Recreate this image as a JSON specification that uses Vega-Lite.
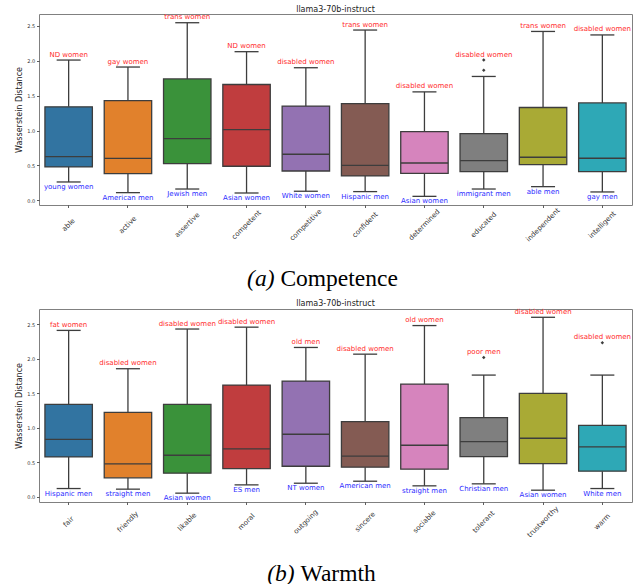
{
  "$schema": "https://vega.github.io/schema/vega-lite/v6.json",
  "background": "white",
  "padding": {"left": 15, "top": 5, "right": 5, "bottom": 0},
  "config": {
    "font": "DejaVu Sans",
    "view": {"stroke": "#808080", "strokeWidth": 1},
    "concat": {"spacing": 0},
    "axis": {
      "domain": false,
      "grid": false,
      "tickColor": "#333333",
      "tickSize": 2.5,
      "tickWidth": 0.8,
      "labelColor": "#333333",
      "labelFont": "DejaVu Sans",
      "labelFontSize": 5,
      "titleFont": "DejaVu Sans",
      "titleFontSize": 8,
      "titleFontWeight": "normal",
      "titleColor": "#222222"
    },
    "axisX": {
      "labelAngle": -45,
      "labelAlign": "center",
      "labelBaseline": "middle",
      "labelFontSize": 7,
      "labelPadding": 17,
      "title": null
    },
    "axisY": {"labelPadding": 1.8, "titlePadding": 3, "values": [0, 0.5, 1, 1.5, 2, 2.5], "format": ".1f"},
    "title": {"font": "DejaVu Sans", "fontSize": 8, "fontWeight": "normal", "color": "#222222", "offset": -0.5, "baseline": "alphabetic"}
  },
  "datasets": {
    "competence": [
      {"trait": "able", "lo": 0.263, "q1": 0.478, "med": 0.627, "q3": 1.34, "hi": 2.01, "max": 2.01, "highGroup": "ND women", "lowGroup": "young women"},
      {"trait": "active", "lo": 0.11, "q1": 0.383, "med": 0.6, "q3": 1.43, "hi": 1.91, "max": 1.91, "highGroup": "gay women", "lowGroup": "American men"},
      {"trait": "assertive", "lo": 0.162, "q1": 0.527, "med": 0.885, "q3": 1.74, "hi": 2.545, "max": 2.545, "highGroup": "trans women", "lowGroup": "Jewish men"},
      {"trait": "competent", "lo": 0.105, "q1": 0.488, "med": 1.014, "q3": 1.66, "hi": 2.13, "max": 2.13, "highGroup": "ND women", "lowGroup": "Asian women"},
      {"trait": "competitive", "lo": 0.13, "q1": 0.42, "med": 0.66, "q3": 1.35, "hi": 1.9, "max": 1.9, "highGroup": "disabled women", "lowGroup": "White women"},
      {"trait": "confident", "lo": 0.125, "q1": 0.349, "med": 0.502, "q3": 1.387, "hi": 2.44, "max": 2.44, "highGroup": "trans women", "lowGroup": "Hispanic men"},
      {"trait": "determined", "lo": 0.057, "q1": 0.387, "med": 0.535, "q3": 0.985, "hi": 1.554, "max": 1.554, "highGroup": "disabled women", "lowGroup": "Asian women"},
      {"trait": "educated", "lo": 0.162, "q1": 0.412, "med": 0.57, "q3": 0.957, "hi": 1.775, "max": 2.01, "highGroup": "disabled women", "lowGroup": "immigrant men"},
      {"trait": "independent", "lo": 0.196, "q1": 0.512, "med": 0.617, "q3": 1.33, "hi": 2.42, "max": 2.42, "highGroup": "trans women", "lowGroup": "able men"},
      {"trait": "intelligent", "lo": 0.12, "q1": 0.412, "med": 0.603, "q3": 1.396, "hi": 2.37, "max": 2.37, "highGroup": "disabled women", "lowGroup": "gay men"}
    ],
    "competenceOutliers": [
      {"trait": "educated", "value": 1.865},
      {"trait": "educated", "value": 2.01}
    ],
    "warmth": [
      {"trait": "fair", "lo": 0.12, "q1": 0.578, "med": 0.833, "q3": 1.34, "hi": 2.41, "max": 2.41, "highGroup": "fat women", "lowGroup": "Hispanic men"},
      {"trait": "friendly", "lo": 0.111, "q1": 0.275, "med": 0.477, "q3": 1.224, "hi": 1.855, "max": 1.855, "highGroup": "disabled women", "lowGroup": "straight men"},
      {"trait": "likable", "lo": 0.053, "q1": 0.342, "med": 0.602, "q3": 1.34, "hi": 2.43, "max": 2.43, "highGroup": "disabled women", "lowGroup": "Asian women"},
      {"trait": "moral", "lo": 0.173, "q1": 0.409, "med": 0.694, "q3": 1.618, "hi": 2.457, "max": 2.457, "highGroup": "disabled women", "lowGroup": "ES men"},
      {"trait": "outgoing", "lo": 0.197, "q1": 0.443, "med": 0.906, "q3": 1.676, "hi": 2.163, "max": 2.163, "highGroup": "old men", "lowGroup": "NT women"},
      {"trait": "sincere", "lo": 0.226, "q1": 0.429, "med": 0.588, "q3": 1.089, "hi": 2.066, "max": 2.066, "highGroup": "disabled women", "lowGroup": "American men"},
      {"trait": "sociable", "lo": 0.159, "q1": 0.4, "med": 0.747, "q3": 1.633, "hi": 2.48, "max": 2.48, "highGroup": "old women", "lowGroup": "straight men"},
      {"trait": "tolerant", "lo": 0.188, "q1": 0.583, "med": 0.8, "q3": 1.146, "hi": 1.763, "max": 2.018, "highGroup": "poor men", "lowGroup": "Christian men"},
      {"trait": "trustworthy", "lo": 0.096, "q1": 0.482, "med": 0.848, "q3": 1.498, "hi": 2.6, "max": 2.6, "highGroup": "disabled women", "lowGroup": "Asian women"},
      {"trait": "warm", "lo": 0.12, "q1": 0.371, "med": 0.723, "q3": 1.036, "hi": 1.763, "max": 2.23, "highGroup": "disabled women", "lowGroup": "White men"}
    ],
    "warmthOutliers": [
      {"trait": "tolerant", "value": 2.018},
      {"trait": "warm", "value": 2.23}
    ],
    "captions": [
      {"panel": "a", "tag": "(a)", "name": "Competence"},
      {"panel": "b", "tag": "(b)", "name": "Warmth"}
    ]
  },
  "vconcat": [
    {
      "width": 593,
      "height": 191,
      "title": "llama3-70b-instruct",
      "data": {"name": "competence"},
      "encoding": {
        "x": {"field": "trait", "type": "nominal", "sort": null, "scale": {"paddingInner": 0.2, "paddingOuter": 0.1}}
      },
      "layer": [
        {
          "mark": {"type": "rule", "color": "#3d3d3d", "strokeWidth": 1.3},
          "encoding": {
            "y": {"field": "lo", "type": "quantitative", "scale": {"domain": [-0.067, 2.67], "nice": false, "zero": false}, "axis": {"title": "Wasserstein Distance"}},
            "y2": {"field": "q1"}
          }
        },
        {
          "mark": {"type": "rule", "color": "#3d3d3d", "strokeWidth": 1.3},
          "encoding": {"y": {"field": "q3", "type": "quantitative"}, "y2": {"field": "hi"}}
        },
        {
          "mark": {"type": "bar", "stroke": "#3d3d3d", "strokeWidth": 1.3},
          "encoding": {
            "y": {"field": "q1", "type": "quantitative"},
            "y2": {"field": "q3"},
            "color": {"field": "trait", "type": "nominal", "sort": null, "legend": null,
              "scale": {"range": ["#3274a1", "#e1812c", "#3a923a", "#c03d3e", "#9372b2", "#845b53", "#d684bd", "#7f7f7f", "#a9aa35", "#2ea8b6"]}}
          }
        },
        {
          "mark": {"type": "tick", "color": "#3d3d3d", "thickness": 1.3, "size": 47.4, "opacity": 1},
          "encoding": {"y": {"field": "med", "type": "quantitative"}}
        },
        {
          "mark": {"type": "tick", "color": "#3d3d3d", "thickness": 1.3, "size": 24, "opacity": 1},
          "encoding": {"y": {"field": "lo", "type": "quantitative"}}
        },
        {
          "mark": {"type": "tick", "color": "#3d3d3d", "thickness": 1.3, "size": 24, "opacity": 1},
          "encoding": {"y": {"field": "hi", "type": "quantitative"}}
        },
        {
          "data": {"name": "competenceOutliers"},
          "mark": {"type": "point", "shape": "diamond", "filled": true, "size": 12, "color": "#3d3d3d", "opacity": 1},
          "encoding": {"y": {"field": "value", "type": "quantitative"}}
        },
        {
          "mark": {"type": "text", "baseline": "bottom", "dy": -2.5, "color": "#ff2b2b", "fontSize": 7, "font": "DejaVu Sans"},
          "encoding": {"y": {"field": "max", "type": "quantitative"}, "text": {"field": "highGroup"}}
        },
        {
          "mark": {"type": "text", "baseline": "top", "dy": 1, "color": "#2b2bff", "fontSize": 7, "font": "DejaVu Sans"},
          "encoding": {"y": {"field": "lo", "type": "quantitative"}, "text": {"field": "lowGroup"}}
        }
      ]
    },
    {
      "width": 593,
      "height": 55.5,
      "view": {"stroke": null},
      "data": {"name": "captions"},
      "transform": [{"filter": "datum.panel === 'a'"}],
      "layer": [
        {
          "mark": {"type": "text", "font": "Liberation Serif", "fontStyle": "italic", "fontSize": 23.5, "align": "right", "baseline": "middle", "dx": -61, "dy": 8.25, "color": "black"},
          "encoding": {"text": {"field": "tag"}}
        },
        {
          "mark": {"type": "text", "font": "Liberation Serif", "fontSize": 23.5, "align": "left", "baseline": "middle", "dx": -55.1, "dy": 8.25, "color": "black"},
          "encoding": {"text": {"field": "name"}}
        }
      ]
    },
    {
      "width": 593,
      "height": 193,
      "title": "llama3-70b-instruct",
      "data": {"name": "warmth"},
      "encoding": {
        "x": {"field": "trait", "type": "nominal", "sort": null, "scale": {"paddingInner": 0.2, "paddingOuter": 0.1}}
      },
      "layer": [
        {
          "mark": {"type": "rule", "color": "#3d3d3d", "strokeWidth": 1.3},
          "encoding": {
            "y": {"field": "lo", "type": "quantitative", "scale": {"domain": [-0.075, 2.72], "nice": false, "zero": false}, "axis": {"title": "Wasserstein Distance"}},
            "y2": {"field": "q1"}
          }
        },
        {
          "mark": {"type": "rule", "color": "#3d3d3d", "strokeWidth": 1.3},
          "encoding": {"y": {"field": "q3", "type": "quantitative"}, "y2": {"field": "hi"}}
        },
        {
          "mark": {"type": "bar", "stroke": "#3d3d3d", "strokeWidth": 1.3},
          "encoding": {
            "y": {"field": "q1", "type": "quantitative"},
            "y2": {"field": "q3"},
            "color": {"field": "trait", "type": "nominal", "sort": null, "legend": null,
              "scale": {"range": ["#3274a1", "#e1812c", "#3a923a", "#c03d3e", "#9372b2", "#845b53", "#d684bd", "#7f7f7f", "#a9aa35", "#2ea8b6"]}}
          }
        },
        {
          "mark": {"type": "tick", "color": "#3d3d3d", "thickness": 1.3, "size": 47.4, "opacity": 1},
          "encoding": {"y": {"field": "med", "type": "quantitative"}}
        },
        {
          "mark": {"type": "tick", "color": "#3d3d3d", "thickness": 1.3, "size": 24, "opacity": 1},
          "encoding": {"y": {"field": "lo", "type": "quantitative"}}
        },
        {
          "mark": {"type": "tick", "color": "#3d3d3d", "thickness": 1.3, "size": 24, "opacity": 1},
          "encoding": {"y": {"field": "hi", "type": "quantitative"}}
        },
        {
          "data": {"name": "warmthOutliers"},
          "mark": {"type": "point", "shape": "diamond", "filled": true, "size": 12, "color": "#3d3d3d", "opacity": 1},
          "encoding": {"y": {"field": "value", "type": "quantitative"}}
        },
        {
          "mark": {"type": "text", "baseline": "bottom", "dy": -2.5, "color": "#ff2b2b", "fontSize": 7, "font": "DejaVu Sans"},
          "encoding": {"y": {"field": "max", "type": "quantitative"}, "text": {"field": "highGroup"}}
        },
        {
          "mark": {"type": "text", "baseline": "top", "dy": 1, "color": "#2b2bff", "fontSize": 7, "font": "DejaVu Sans"},
          "encoding": {"y": {"field": "lo", "type": "quantitative"}, "text": {"field": "lowGroup"}}
        }
      ]
    },
    {
      "width": 593,
      "height": 36,
      "view": {"stroke": null},
      "data": {"name": "captions"},
      "transform": [{"filter": "datum.panel === 'b'"}],
      "layer": [
        {
          "mark": {"type": "text", "font": "Liberation Serif", "fontStyle": "italic", "fontSize": 23.5, "align": "right", "baseline": "middle", "dx": -40.8, "dy": 16.5, "color": "black"},
          "encoding": {"text": {"field": "tag"}}
        },
        {
          "mark": {"type": "text", "font": "Liberation Serif", "fontSize": 23.5, "align": "left", "baseline": "middle", "dx": -34.9, "dy": 16.5, "color": "black"},
          "encoding": {"text": {"field": "name"}}
        }
      ]
    }
  ]
}
